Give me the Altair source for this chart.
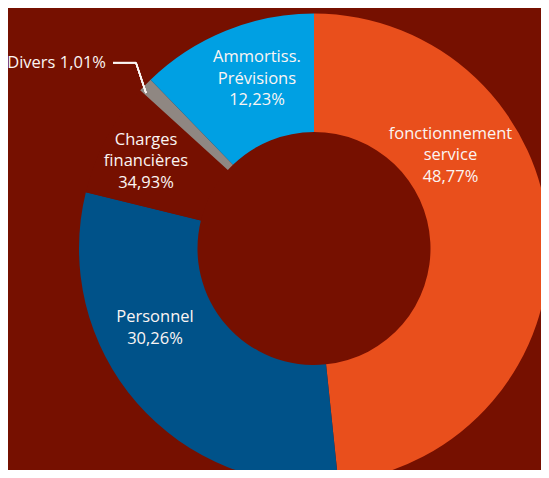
import altair as alt
import pandas as pd

# ---- data ----
categories = ["fonctionnement service", "Personnel", "Charges financières", "Divers", "Ammortiss. Prévisions"]
shares = [48.35, 30.5, 7.9, 1.01, 12.24]          # angular share of each slice (%)
labels = [
    "fonctionnement\nservice\n48,77%",
    "Personnel\n30,26%",
    "Charges\nfinancières\n34,93%",
    "Divers 1,01%",
    "Ammortiss.\nPrévisions\n12,23%",
]
colors = ["#e94f1c", "#005289", "#761000", "#8f8782", "#00a0e3"]

# ---- style ----
BG = "#761000"
W, H = 533, 462
CX, CY = 306, 240.5
R_OUT, R_IN = 235, 116.5
FONT = "Open Sans"
FS = 16.5
LH = 21.5
TXT = "#fbf5f3"
# per-label placement: (radius, dx, dy of block centre, align)
label_style = [
    (175, -38.3, -84.4, "center"),
    (175, -27.0, -35.4, "center"),
    (175, -13.6, -5.1, "center"),
    (235, -39.3, -22.4, "right"),
    (175, 8.6, -7.3, "center"),
]

df = pd.DataFrame({"idx": list(range(len(categories))), "cat": categories,
                   "share": shares, "label": labels})
base = alt.Chart(df)

arcs = base.mark_arc(innerRadius=R_IN, outerRadius=R_OUT).encode(
    theta=alt.Theta("share:Q", stack=True, scale=alt.Scale(domain=[0, 100])),
    order=alt.Order("idx:Q"),
    color=alt.Color("cat:N", scale=alt.Scale(domain=categories, range=colors), legend=None),
    x=alt.value(CX),
    y=alt.value(CY),
)

layers = [arcs]
for i, (r, dx, dy, align) in enumerate(label_style):
    n_lines = labels[i].count("\n") + 1
    dy_first = dy - (n_lines - 1) * LH / 2
    t = (
        base.transform_window(cum="sum(share)", sort=[alt.SortField("idx")], frame=[None, 0])
        .transform_calculate(mid="datum.cum - datum.share / 2")
        .transform_filter(alt.datum.idx == i)
        .mark_text(radius=r, dx=dx, dy=dy_first, align=align, baseline="middle",
                   lineBreak="\n", lineHeight=LH, font=FONT, fontSize=FS, color=TXT)
        .encode(
            theta=alt.Theta("mid:Q", scale=alt.Scale(domain=[0, 100])),
            text="label:N",
            x=alt.value(CX),
            y=alt.value(CY),
        )
    )
    layers.append(t)

# leader line for "Divers"
lead1 = base.mark_rule(color=TXT, strokeWidth=1.5).encode(
    x=alt.value(105), x2=alt.value(128), y=alt.value(54.7), y2=alt.value(54.7))
lead2 = base.mark_rule(color=TXT, strokeWidth=1.5).encode(
    x=alt.value(128), x2=alt.value(138), y=alt.value(54.7), y2=alt.value(85))
layers += [lead1, lead2]

chart = alt.layer(*layers).properties(
    width=W, height=H, background=BG, padding=0,
    autosize=alt.AutoSizeParams(type="none"),
).configure_view(stroke=None)

chart.save("out.html", embed_options={"renderer": "svg", "actions": False})
